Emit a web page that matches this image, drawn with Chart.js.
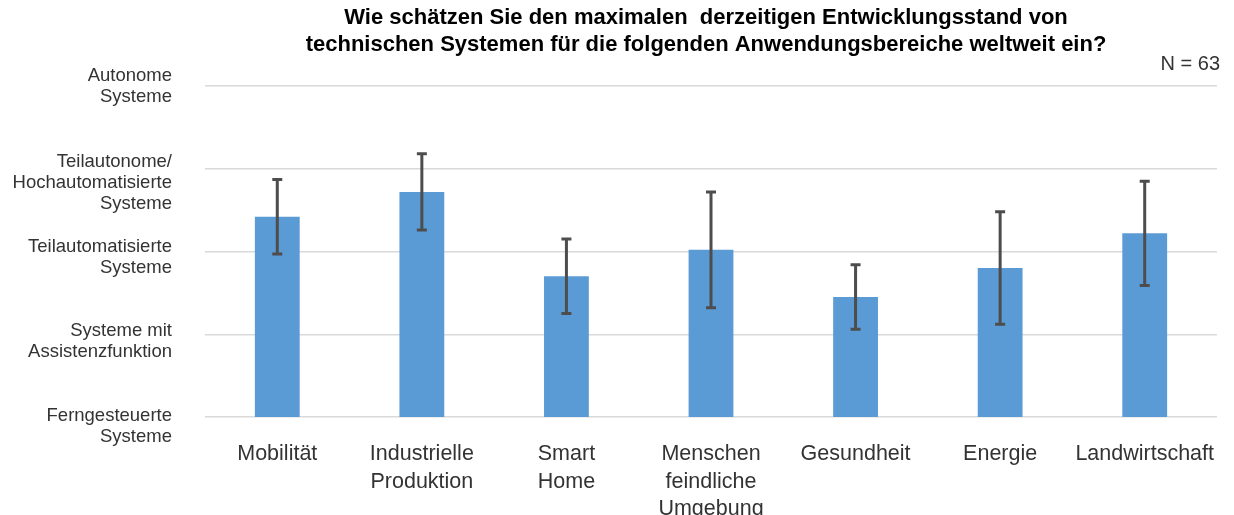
<!DOCTYPE html>
<html>
<head>
<meta charset="utf-8">
<script src="https://cdn.jsdelivr.net/npm/chart.js@4.4.1/dist/chart.umd.min.js"></script>
<style>
  html, body { margin: 0; padding: 0; background: #fff; }
  #wrap { width: 1234px; height: 515px; }
</style>
</head>
<body>
<div id="wrap"><canvas id="chart"></canvas></div>
<script>
  // Data
  const categories = [
    'Mobilität',
    ['Industrielle', 'Produktion'],
    ['Smart', 'Home'],
    ['Menschen', 'feindliche', 'Umgebung'],
    'Gesundheit',
    'Energie',
    'Landwirtschaft'
  ]
  const means = [3.42, 3.72, 2.70, 3.02, 2.45, 2.80, 3.22]
  const stdDevs = [0.45, 0.46, 0.45, 0.70, 0.39, 0.68, 0.63]
  const levelLabels = [
    ['Ferngesteuerte', 'Systeme'],
    ['Systeme mit', 'Assistenzfunktion'],
    ['Teilautomatisierte', 'Systeme'],
    ['Teilautonome/', 'Hochautomatisierte', 'Systeme'],
    ['Autonome', 'Systeme']
  ]
  const titleLines = [
    'Wie schätzen Sie den maximalen  derzeitigen Entwicklungsstand von',
    'technischen Systemen für die folgenden Anwendungsbereiche weltweit ein?'
  ]
  const sampleNote = 'N = 63'

  // Styles
  const FONT = '"Liberation Sans", Arial, sans-serif'
  const TEXT = '#333333'
  const levelShift = [9, 7, 6, 14, 0] // vertical shift of each y label block

  // Error bars
  const errorBars = {
    id: 'errorBars',
    afterDatasetsDraw (chart) {
      const ctx = chart.ctx
      const y = chart.scales.y
      const meta = chart.getDatasetMeta(0)
      ctx.save()
      ctx.strokeStyle = '#4d4d4d'
      ctx.lineWidth = 3
      meta.data.forEach((bar, i) => {
        const top = y.getPixelForValue(means[i] + stdDevs[i])
        const bottom = y.getPixelForValue(means[i] - stdDevs[i])
        ctx.beginPath()
        ctx.moveTo(bar.x, top)
        ctx.lineTo(bar.x, bottom)
        ctx.moveTo(bar.x - 5, top)
        ctx.lineTo(bar.x + 5, top)
        ctx.moveTo(bar.x - 5, bottom)
        ctx.lineTo(bar.x + 5, bottom)
        ctx.stroke()
      })
      ctx.restore()
    }
  }

  // Title, N and level labels
  const texts = {
    id: 'texts',
    afterDraw (chart) {
      const ctx = chart.ctx
      const y = chart.scales.y
      ctx.save()
      ctx.textBaseline = 'middle'

      ctx.fillStyle = '#000'
      ctx.textAlign = 'center'
      ctx.font = 'bold 22px ' + FONT
      titleLines.forEach((t, i) => {
        ctx.fillText(t, 706, 18 + i * 27)
      })

      ctx.fillStyle = TEXT
      ctx.textAlign = 'right'
      ctx.font = '20px ' + FONT
      ctx.fillText(sampleNote, 1220, 64)

      ctx.font = '18.5px ' + FONT
      const lh = 21
      levelLabels.forEach((lines, i) => {
        const c = y.getPixelForValue(i + 1) + levelShift[i]
        const start = c - (lines.length - 1) * lh / 2
        lines.forEach((t, k) => {
          ctx.fillText(t, 172, start + k * lh)
        })
      })
      ctx.restore()
    }
  }

  const ctx1 = document.getElementById('chart').getContext('2d')
  const myChart1 = new Chart(ctx1, {
    type: 'bar',
    data: {
      labels: categories,
      datasets: [{
        data: means,
        backgroundColor: '#5b9bd5',
        barPercentage: 1,
        categoryPercentage: 0.31
      }]
    },
    options: {
      responsive: true,
      maintainAspectRatio: false,
      animation: false,
      layout: { padding: { top: 86, right: 17, left: 0, bottom: 0 } },
      plugins: {
        legend: { display: false },
        title: { display: false },
        tooltip: { enabled: false }
      },
      scales: {
        x: {
          grid: { display: false, drawTicks: false },
          border: { display: false },
          ticks: {
            color: TEXT,
            font: { family: FONT, size: 21.5, lineHeight: 1.26 },
            padding: 24,
            maxRotation: 0,
            autoSkip: false
          },
          afterFit (scale) {
            scale.height = 98
            scale.paddingLeft = 0
            scale.paddingRight = 0
          }
        },
        y: {
          min: 1,
          max: 5,
          ticks: { display: false, stepSize: 1 },
          grid: { color: '#d9d9d9', lineWidth: 1.5, drawTicks: false },
          border: { display: false },
          afterFit (scale) { scale.width = 205 }
        }
      }
    },
    plugins: [errorBars, texts]
  })
</script>
</body>
</html>
